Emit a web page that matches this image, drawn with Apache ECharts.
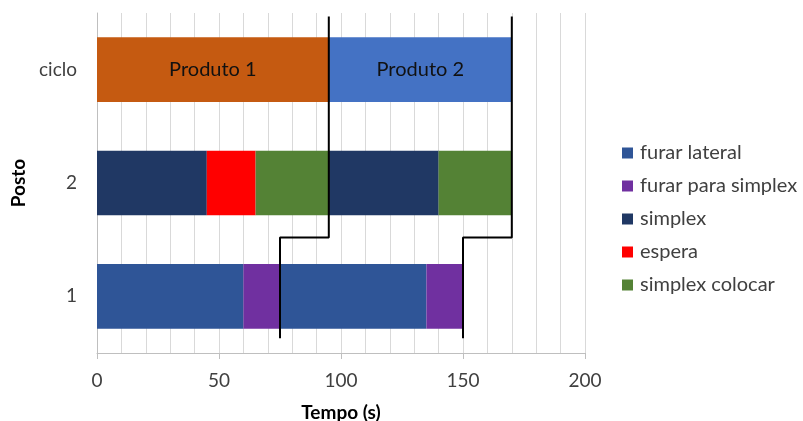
<!DOCTYPE html>
<html>
<head>
<meta charset="utf-8">
<script src="https://cdn.jsdelivr.net/npm/echarts@6/dist/echarts.min.js"></script>
<style>
  html, body { margin: 0; padding: 0; background: #fff; }
  #chart { width: 803px; height: 421px; }
</style>
</head>
<body>
<div id="chart"></div>
<script>
// Stations, bottom to top
const postos = ['1', '2', 'ciclo'];

// Time segments (s) per station, in order of occurrence
const furarLateralA   = [60, '-', '-'];
const furarSimplexA   = [15, '-', '-'];
const furarLateralB   = [60, '-', '-'];
const furarSimplexB   = [15, '-', '-'];
const simplexA        = ['-', 45, '-'];
const espera          = ['-', 20, '-'];
const simplexColocarA = ['-', 30, '-'];
const simplexB        = ['-', 45, '-'];
const simplexColocarB = ['-', 30, '-'];
const produto1        = ['-', '-', 95];
const produto2        = ['-', '-', 75];

// Product hand-off step lines: [time, station position]
const passo1 = [[95, 2.47], [95, 0.52], [75, 0.52], [75, -0.37]];
const passo2 = [[170, 2.47], [170, 0.52], [150, 0.52], [150, -0.37]];

const legendNames = ['furar lateral', 'furar para simplex', 'simplex', 'espera', 'simplex colocar'];

const colors = {
  'furar lateral': '#2F5597',
  'furar para simplex': '#7030A0',
  'simplex': '#203864',
  'espera': '#FF0000',
  'simplex colocar': '#548235',
  'Produto 1': '#C55A11',
  'Produto 2': '#4472C4'
};

const FONT = 'Lato, "Open Sans", sans-serif';

function barSeries(name, data, showLabel) {
  return {
    type: 'bar',
    name: name,
    stack: 'tempo',
    data: data,
    barWidth: '57%',
    itemStyle: { color: colors[name] },
    label: showLabel ? {
      show: true,
      position: 'inside',
      formatter: name,
      color: '#111',
      fontSize: 20,
      fontFamily: FONT
    } : { show: false },
    emphasis: { disabled: true },
    z: 2
  };
}

function stepSeries(data) {
  return {
    type: 'line',
    xAxisIndex: 0,
    yAxisIndex: 1,
    data: data,
    showSymbol: false,
    symbol: 'none',
    lineStyle: { color: '#000', width: 2 },
    z: 5,
    silent: true
  };
}

const chart = echarts.init(document.getElementById('chart'));
chart.setOption({
  animation: false,
  backgroundColor: '#fff',
  textStyle: { fontFamily: FONT },
  grid: { left: 97, right: 218, top: 13, bottom: 68, containLabel: false, outerBoundsMode: 'none' },
  legend: {
    data: legendNames,
    orient: 'vertical',
    left: 622,
    top: 142,
    padding: 0,
    itemWidth: 11,
    itemHeight: 11,
    itemGap: 11,
    icon: 'rect',
    textStyle: { fontSize: 20, color: '#404040', fontFamily: FONT, lineHeight: 22, padding: [0, 0, 0, 2] }
  },
  xAxis: {
    type: 'value',
    min: 0,
    max: 200,
    interval: 50,
    name: 'Tempo (s)',
    nameLocation: 'middle',
    nameGap: 50,
    nameTextStyle: { fontSize: 19, fontWeight: 'bold', color: '#000', fontFamily: FONT },
    axisLine: { show: true, onZero: false, lineStyle: { color: '#bfbfbf', width: 1 } },
    axisTick: { show: true, length: 6, inside: false, lineStyle: { color: '#bfbfbf' } },
    axisLabel: { fontSize: 19, color: '#404040', margin: 18, fontFamily: FONT },
    splitLine: { show: true, lineStyle: { color: '#d9d9d9', width: 1 } },
    minorTick: { show: false, splitNumber: 5 },
    minorSplitLine: { show: true, lineStyle: { color: '#d9d9d9', width: 1 } }
  },
  yAxis: [{
    type: 'category',
    data: postos,
    name: 'Posto',
    nameLocation: 'middle',
    nameGap: 53,
    nameRotate: 90,
    nameTextStyle: { fontSize: 19, fontWeight: 'bold', color: '#000', fontFamily: FONT },
    axisLine: { show: true, onZero: false, lineStyle: { color: '#bfbfbf', width: 1 } },
    axisTick: { show: false },
    axisLabel: { fontSize: 19, color: '#404040', margin: 20, fontFamily: FONT },
    splitLine: { show: false }
  }, {
    type: 'value',
    min: -0.5,
    max: 2.5,
    show: false,
    splitLine: { show: false }
  }],
  series: [
    barSeries('furar lateral', furarLateralA),
    barSeries('furar para simplex', furarSimplexA),
    barSeries('furar lateral', furarLateralB),
    barSeries('furar para simplex', furarSimplexB),
    barSeries('simplex', simplexA),
    barSeries('espera', espera),
    barSeries('simplex colocar', simplexColocarA),
    barSeries('simplex', simplexB),
    barSeries('simplex colocar', simplexColocarB),
    barSeries('Produto 1', produto1, true),
    barSeries('Produto 2', produto2, true),
    stepSeries(passo1),
    stepSeries(passo2)
  ]
});
</script>
</body>
</html>
